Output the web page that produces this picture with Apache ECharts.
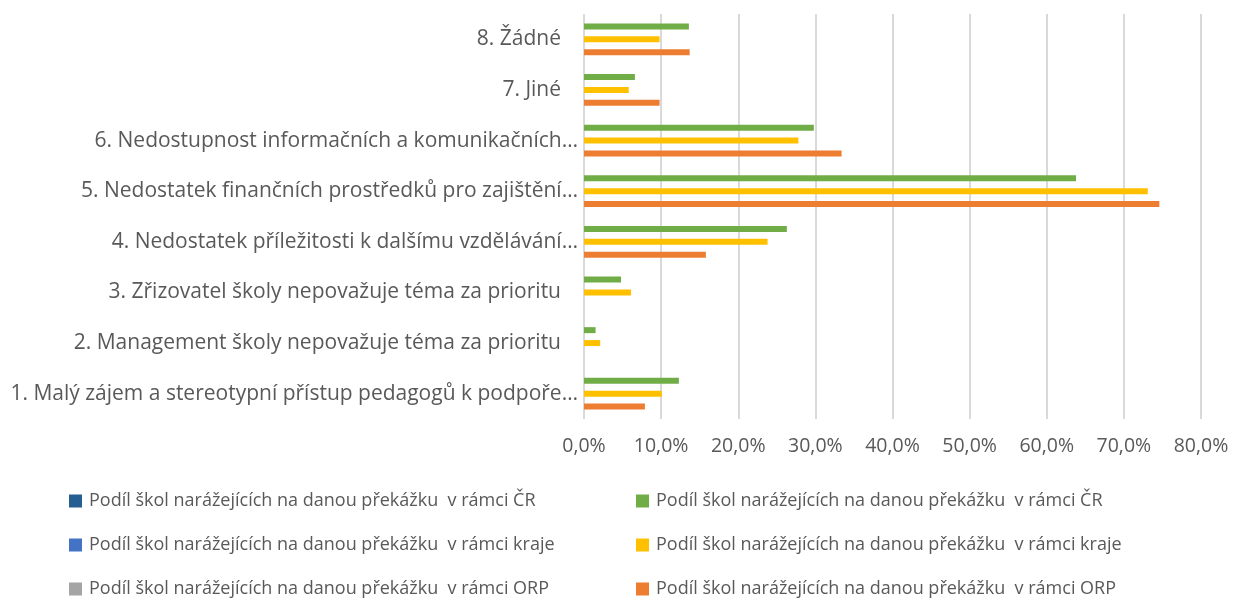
<!DOCTYPE html>
<html>
<head>
<meta charset="utf-8">
<script src="https://cdn.jsdelivr.net/npm/echarts@6/dist/echarts.min.js"></script>
<style>html,body{margin:0;padding:0;background:#fff;}#c{width:1234px;height:601px;}</style>
</head>
<body>
<div id="c"></div>
<script>
const categories = [
  "1. Malý zájem a stereotypní přístup pedagogů k podpoře…",
  "2. Management školy nepovažuje téma za prioritu",
  "3. Zřizovatel školy nepovažuje téma za prioritu",
  "4. Nedostatek příležitosti k dalšímu vzdělávání…",
  "5. Nedostatek finančních prostředků pro zajištění…",
  "6. Nedostupnost informačních a komunikačních…",
  "7. Jiné",
  "8. Žádné"
];
const seriesNames = [
  "Podíl škol narážejících na danou překážku  v rámci ČR",
  "Podíl škol narážejících na danou překážku  v rámci kraje",
  "Podíl škol narážejících na danou překážku  v rámci ORP"
];
const valuesCR    = [12.3, 1.5, 4.8, 26.3, 63.8, 29.8, 6.6, 13.6];
const valuesKraje = [10.1, 2.1, 6.1, 23.8, 73.1, 27.8, 5.8, 9.8];
const valuesORP   = [7.9, null, null, 15.8, 74.6, 33.4, 9.8, 13.7];
const xTicks = { min: 0, max: 80, interval: 10 };

const FONT = "'Open Sans', sans-serif";
const TXT = '#595959';
const emptyNames = seriesNames.map(n => n + ' ');
const emptyColors = ['#255E91', '#4472C4', '#A5A5A5'];
const barColors = ['#70AD47', '#FFC000', '#ED7D31'];
const barData = [valuesCR, valuesKraje, valuesORP];

const chart = echarts.init(document.getElementById('c'), null, {renderer: 'canvas'});
const series = [];
emptyNames.forEach((n, i) => series.push({
  name: n, type: 'line', data: [], itemStyle: {color: emptyColors[i]}, lineStyle: {color: emptyColors[i]}
}));
seriesNames.forEach((n, i) => series.push({
  name: n, type: 'bar', data: barData[i], barWidth: 6, barGap: '115%',
  itemStyle: {color: barColors[i]}
}));

const legends = [];
[emptyNames, seriesNames].forEach((names, col) => {
  names.forEach((n, row) => {
    legends.push({
      left: col === 0 ? 69 : 636, top: 491 + row * 44, padding: 0,
      icon: 'rect', itemWidth: 13, itemHeight: 13,
      textStyle: {color: TXT, fontFamily: FONT, fontSize: 18, lineHeight: 20, padding: [0,0,0,2]},
      selectedMode: false, data: [n]
    });
  });
});

chart.setOption({
  animation: false,
  grid: {left: 584, right: 33, top: 14, height: 405, containLabel: false},
  xAxis: {
    type: 'value', min: xTicks.min, max: xTicks.max, interval: xTicks.interval,
    axisLine: {show: false}, axisTick: {show: false},
    splitLine: {show: true, lineStyle: {color: '#d9d9d9', width: 2}},
    axisLabel: {
      color: TXT, fontFamily: FONT, fontSize: 19.5, margin: 17,
      formatter: v => v.toFixed(1).replace('.', ',') + '%'
    }
  },
  yAxis: {
    type: 'category', data: categories,
    axisLine: {show: false}, axisTick: {show: false},
    axisLabel: {
      color: TXT, fontFamily: FONT, fontSize: 21, margin: 6,
      formatter: v => v.endsWith('…') ? '{a|' + v + '}' : '{b|' + v + '}',
      rich: {
        a: {color: TXT, fontFamily: FONT, fontSize: 21},
        b: {color: TXT, fontFamily: FONT, fontSize: 21, padding: [0, 17, 0, 0]}
      }
    }
  },
  legend: legends,
  series: series
});
</script>
</body>
</html>
